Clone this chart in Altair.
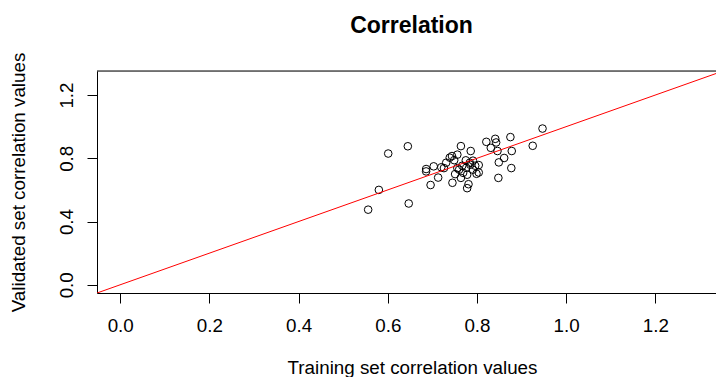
import altair as alt
import pandas as pd

# Training / validated correlation values
train_vals = [0.556, 0.580, 0.601, 0.645, 0.647, 0.686, 0.686, 0.703, 0.713, 0.696,
              0.720, 0.726, 0.739, 0.744, 0.749, 0.756, 0.764, 0.786, 0.775, 0.784,
              0.745, 0.751, 0.756, 0.760, 0.767, 0.769, 0.776, 0.778, 0.785, 0.791,
              0.796, 0.799, 0.781, 0.778, 0.804, 0.804, 0.821, 0.841, 0.843, 0.831,
              0.846, 0.875, 0.878, 0.861, 0.849, 0.877, 0.848, 0.925, 0.947, 0.731,
              0.764, 0.791]
valid_vals = [0.475, 0.600, 0.830, 0.876, 0.514, 0.732, 0.717, 0.749, 0.678, 0.631,
              0.743, 0.738, 0.804, 0.814, 0.788, 0.823, 0.877, 0.846, 0.787, 0.772,
              0.645, 0.700, 0.738, 0.728, 0.753, 0.708, 0.740, 0.696, 0.759, 0.728,
              0.753, 0.702, 0.636, 0.611, 0.757, 0.710, 0.904, 0.923, 0.900, 0.866,
              0.846, 0.934, 0.846, 0.802, 0.774, 0.738, 0.676, 0.879, 0.988, 0.772,
              0.676, 0.785]

x_ticks = [0.0, 0.2, 0.4, 0.6, 0.8, 1.0, 1.2]
y_ticks = [0.0, 0.2, 0.4, 0.6, 0.8, 1.0, 1.2]
y_labels = ["0.0", "0.4", "0.8", "1.2"]
x_domain = [-0.052, 1.336]   # right side of the panel is cut off in the original
y_domain = [-0.052, 1.352]
# identity reference line y = x (abline(0, 1))
line_x = [-0.052, 1.336]
line_y = [-0.052, 1.336]

FONT = "Liberation Sans"
FS = 18.8
PLOT_W, PLOT_H = 619, 222

pts = pd.DataFrame({"train": train_vals, "valid": valid_vals})
ln = pd.DataFrame({"train": line_x, "valid": line_y})
top = pd.DataFrame({"x1": [x_domain[0]], "x2": [x_domain[1]], "y": [y_domain[1]]})

xscale = alt.Scale(domain=x_domain, zero=False, nice=False)
yscale = alt.Scale(domain=y_domain, zero=False, nice=False)

lbl_list = "[" + ",".join("'%s'" % s for s in y_labels) + "]"

xaxis = alt.Axis(values=x_ticks, format=".1f", grid=False,
                 domain=True, domainColor="black", domainWidth=1,
                 tickSize=10, tickColor="black", tickWidth=1,
                 labelFont=FONT, labelFontSize=FS, labelColor="black",
                 labelPadding=13, labelBaseline="top", labelAlign="center",
                 title="Training set correlation values", titleFont=FONT,
                 titleFontSize=FS, titleFontWeight="normal", titleColor="black",
                 titleX=315, titleY=80, titleBaseline="alphabetic", titleAlign="center")
yaxis = alt.Axis(values=y_ticks, grid=False,
                 domain=True, domainColor="black", domainWidth=1,
                 labelExpr="indexof(" + lbl_list + ", format(datum.value, '.1f')) >= 0 ? format(datum.value, '.1f') : ''",
                 tickSize=10, tickColor="black", tickWidth=1,
                 labelFont=FONT, labelFontSize=FS, labelColor="black",
                 labelAngle=270, labelAlign="center", labelBaseline="alphabetic",
                 labelPadding=15,
                 title="Validated set correlation values", titleFont=FONT,
                 titleFontSize=FS, titleFontWeight="normal", titleColor="black",
                 titleAngle=270, titleX=-73, titleY=111, titleBaseline="alphabetic",
                 titleAlign="center")

points = alt.Chart(pts).mark_point(shape="circle", filled=False, color="black",
                                   size=58, strokeWidth=1, opacity=1).encode(
    x=alt.X("train:Q", scale=xscale, axis=xaxis),
    y=alt.Y("valid:Q", scale=yscale, axis=yaxis),
)

line = alt.Chart(ln).mark_line(color="red", strokeWidth=1, clip=True).encode(
    x=alt.X("train:Q", scale=xscale),
    y=alt.Y("valid:Q", scale=yscale),
)

top_border = alt.Chart(top).mark_rule(color="black", strokeWidth=1).encode(
    x=alt.X("x1:Q", scale=xscale),
    x2="x2:Q",
    y=alt.Y("y:Q", scale=yscale),
)

chart = alt.layer(points, line, top_border).properties(
    width=PLOT_W, height=PLOT_H,
    autosize=alt.AutoSizeParams(type="none"),
    padding={"left": 89, "top": 63, "right": 0, "bottom": 84},
    title=alt.TitleParams("Correlation", font=FONT, fontSize=23, fontWeight="bold",
                          color="black", anchor="middle", offset=14, dx=5),
).configure_view(strokeWidth=0).configure(background="white")

chart.save("out.html", embed_options={"renderer": "svg", "actions": False})
